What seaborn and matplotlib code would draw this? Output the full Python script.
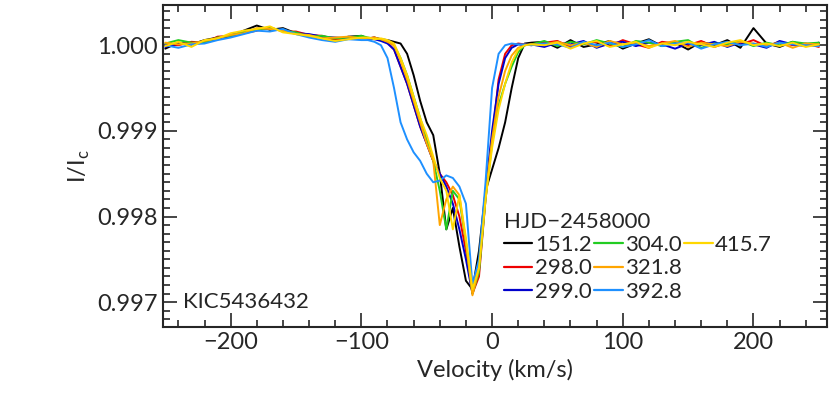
import numpy as np
import pandas as pd
import matplotlib
matplotlib.use("Agg")
import matplotlib.pyplot as plt
import seaborn as sns
from matplotlib.ticker import MultipleLocator
from matplotlib.lines import Line2D

sns.set_style("ticks")
plt.rcParams['font.family'] = ['Lato', 'DejaVu Sans']

velocity = ([-250, -240, -230, -220, -210, -200, -190, -180, -170, -160, -150, -140, -130, -120, -110, -100]
            + [-95, -90, -85, -80, -75, -70, -65, -60, -55, -50, -45, -40, -35, -30, -25, -20, -15, -10, -5, 0, 5, 10, 15, 20, 25, 30]
            + [40, 50, 60, 70, 80, 90, 100, 110, 120, 130, 140, 150, 160, 170, 180, 190, 200, 210, 220, 230, 240, 250])

epochs = ["151.2", "298.0", "299.0", "304.0", "321.8", "392.8", "415.7"]
colors = ["black", "#ee0000", "#0000cc", "#22cc22", "#ffa500", "#1e90ff", "#ffd700"]

# deviations from 1 in units of 1e-6
dev_151 = ([-40, 30, 10, 60, 90, 100, 170, 230, 180, 200, 140, 110, 90, 60, 100, 110]
           + [80, 90, 70, 60, 40, 20, -100, -350, -650, -900, -1050, -1500, -2150, -1900, -2350, -2750, -2850, -2400, -1700, -1450, -1200, -900, -500, -150, 20, 30]
           + [40, -30, 60, -20, 10, 50, -40, 20, 70, -10, 30, -50, 40, 0, 60, -30, 200, 20, -20, 40, -10, 30])
dev_298 = ([10, 0, 40, 30, 100, 110, 140, 170, 210, 160, 160, 120, 110, 70, 80, 90]
           + [80, 90, 60, 30, -50, -250, -450, -700, -950, -1150, -1350, -1500, -1600, -1750, -2000, -2400, -2900, -2700, -1800, -1100, -400, -100, 0, 20, 10, 0]
           + [30, 50, -20, 20, 40, -10, 60, 10, -30, 40, 20, 0, 50, -20, 30, 10, 60, -10, 40, 0, 20, -20])
dev_299 = ([-20, 20, 10, 50, 70, 130, 150, 190, 190, 180, 140, 130, 100, 90, 80, 100]
           + [80, 70, 50, 20, -50, -250, -450, -700, -950, -1150, -1350, -1500, -1650, -1850, -2150, -2500, -2900, -2600, -1700, -1000, -450, -150, -30, 10, 0, 10]
           + [-20, 30, 10, 50, -30, 20, 40, -10, 30, 10, -40, 20, 0, 40, -20, 30, 10, -30, 50, 10, -10, 20])
dev_304 = ([20, 60, 30, 30, 90, 110, 160, 180, 200, 170, 150, 100, 110, 80, 90, 110]
           + [90, 80, 70, 50, 0, -150, -350, -600, -850, -1100, -1350, -1700, -2150, -1700, -1800, -2300, -2900, -2650, -1800, -1150, -700, -450, -250, -80, 0, 10]
           + [50, -10, 40, 10, 60, 20, -20, 50, 30, -10, 40, 60, -30, 20, 10, 50, -10, 30, 0, 40, 20, 30])
dev_321 = ([30, 10, 20, 50, 80, 120, 140, 200, 190, 170, 130, 120, 80, 90, 100, 80]
           + [80, 90, 70, 40, 0, -180, -400, -650, -900, -1150, -1350, -2100, -1800, -1650, -1750, -2300, -2920, -2600, -1750, -1100, -600, -300, -120, -30, 0, 10]
           + [10, 40, 0, 30, -20, 50, 10, 30, -10, 20, 50, -20, 30, 10, -10, 40, 20, 0, 30, -30, 20, 10])
dev_392 = ([0, -30, 10, 20, 60, 90, 130, 170, 160, 190, 130, 90, 60, 40, 70, 60]
           + [60, 40, 0, -150, -500, -900, -1100, -1250, -1350, -1500, -1600, -1580, -1520, -1550, -1650, -1850, -2800, -2500, -1600, -500, -100, 0, 20, 10, 10, 0]
           + [20, 10, -30, 40, 0, 30, -20, 10, 60, -10, 20, 30, -40, 10, 40, 0, 20, -20, 30, 10, 0, -10])
dev_415 = ([-10, 40, -20, 60, 80, 140, 170, 190, 220, 150, 130, 110, 80, 50, 70, 90]
           + [90, 70, 80, 60, 20, -150, -350, -600, -850, -1050, -1300, -1550, -1700, -2150, -1750, -2250, -2850, -2600, -1800, -1200, -750, -450, -200, -50, 0, 10]
           + [0, 30, -40, 20, 50, -20, 10, 40, -30, 20, 0, 40, 10, -20, 30, 60, 0, 20, -10, 30, -20, 10])

devs = [dev_151, dev_298, dev_299, dev_304, dev_321, dev_392, dev_415]
frames = []
for ep, d in zip(epochs, devs):
    frames.append(pd.DataFrame({"v": velocity, "I": 1 + np.array(d) * 1e-6, "epoch": ep}))
df = pd.concat(frames, ignore_index=True)

fig = plt.figure(figsize=(8.3, 4.15), dpi=100)
ax = fig.add_axes([0.196, 0.212, 0.8, 0.776])
sns.lineplot(data=df, x="v", y="I", hue="epoch", palette=dict(zip(epochs, colors)),
             hue_order=epochs, linewidth=1.4, ax=ax, legend=False, sort=False)

ax.set_xlim(-252, 256)
ax.set_ylim(0.99671, 1.00047)
ax.xaxis.set_major_locator(MultipleLocator(100))
ax.xaxis.set_minor_locator(MultipleLocator(20))
ax.yaxis.set_major_locator(MultipleLocator(0.001))
ax.yaxis.set_minor_locator(MultipleLocator(0.0001))
ax.yaxis.set_major_formatter(matplotlib.ticker.FormatStrFormatter("%.3f"))
ax.tick_params(which="both", direction="in", top=True, right=True, labelsize=17)
ax.tick_params(which="major", length=10, width=1.2)
ax.tick_params(which="minor", length=5, width=1.2)
for s in ax.spines.values():
    s.set_linewidth(1.5)
ax.set_xlabel("Velocity (km/s)", fontsize=17)
ax.set_ylabel("I/I$_\\mathregular{c}$", fontsize=17)
ax.text(0.03, 0.06, "KIC5436432", transform=ax.transAxes, fontsize=16)

handles = [Line2D([], [], color=c, lw=1.6) for c in colors]
labels = list(epochs)
blank = Line2D([], [], color="none")
handles += [blank, blank]
labels += ["", ""]
leg = ax.legend(handles, labels, title="HJD\u22122458000", ncol=3, loc="lower left",
                bbox_to_anchor=(0.49, 0.03),
                frameon=False, fontsize=16, title_fontsize=16, handlelength=1.3,
                handletextpad=0.1, columnspacing=0.1, labelspacing=0.15, borderpad=0.2)
leg._legend_box.align = "left"
fig.savefig("out.png", dpi=100)
